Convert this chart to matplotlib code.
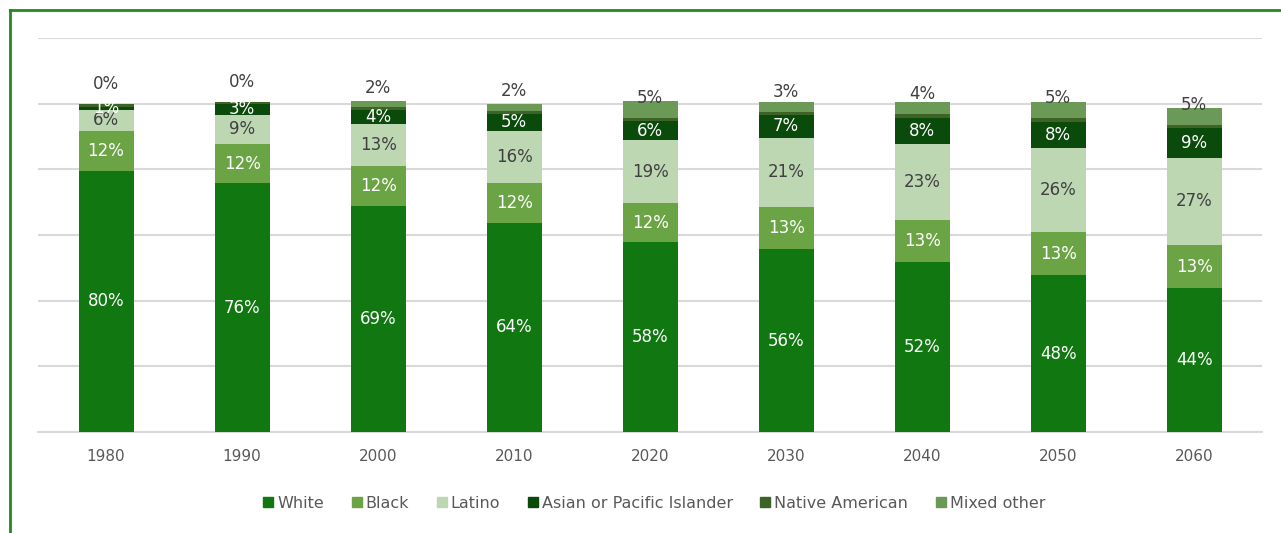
import numpy as np
import matplotlib
matplotlib.use("Agg")
import matplotlib.pyplot as plt
from matplotlib.lines import Line2D

# Data (percent shares)
years = ["1980", "1990", "2000", "2010", "2020", "2030", "2040", "2050", "2060"]
white = [79.6, 75.7, 68.7, 63.8, 57.8, 55.6, 51.7, 47.7, 43.8]
black = [12.2, 12.0, 12.2, 11.9, 11.9, 13.0, 13.0, 13.1, 13.1]
latino = [6.3, 9.0, 12.8, 16.1, 19.1, 21.0, 23.1, 25.8, 26.7]
asian = [0.9, 3.2, 4.3, 5.0, 5.8, 7.0, 7.9, 7.9, 9.1]
native = [1.0, 0.6, 0.9, 1.1, 1.1, 1.0, 1.1, 1.1, 0.9]
mixed = [0.0, 0.0, 1.9, 2.0, 5.0, 3.0, 3.8, 5.0, 5.1]

series = [
    ("White", white, "#117711", "white"),
    ("Black", black, "#6aa444", "white"),
    ("Latino", latino, "#bdd7b3", "#404040"),
    ("Asian or Pacific Islander", asian, "#0a4a0a", "white"),
    ("Native American", native, "#3d6327", None),
    ("Mixed other", mixed, "#6a9a56", "above"),
]

fig = plt.figure(figsize=(12.81, 5.33), dpi=100)
ax = fig.add_axes([0.0297, 0.1895, 0.9556, 0.7392])

x = np.arange(len(years))
bottom = np.zeros(len(years))
handles = []
for name, vals, color, lab in series:
    vals = np.array(vals)
    ax.bar(x, vals, 0.405, bottom=bottom, color=color, linewidth=0, zorder=3)
    for i, v in enumerate(vals):
        if lab is None:
            continue
        txt = f"{round(v):.0f}%"
        if lab == "above":
            ax.text(x[i], bottom[i] + 6, txt, ha="center", va="center",
                    fontsize=12, color="#404040", zorder=4)
        else:
            ax.text(x[i], bottom[i] + v / 2, txt, ha="center", va="center",
                    fontsize=12, color=lab, zorder=4)
    bottom += vals
    handles.append(Line2D([], [], marker="s", linestyle="none", markersize=7.5,
                          markerfacecolor=color, markeredgecolor=color, label=name))

ax.set_xlim(-0.5, len(years) - 0.5)
ax.set_ylim(0, 120)
ax.set_yticks(np.arange(0, 121, 20))
ax.set_yticklabels([])
ax.yaxis.grid(True, color="#d9d9d9", linewidth=1.5, zorder=0)
ax.tick_params(axis="y", length=0)
ax.set_xticks(x)
ax.set_xticklabels(years, fontsize=11, color="#595959")
ax.tick_params(axis="x", length=0, pad=12)
for s in ["top", "right", "left"]:
    ax.spines[s].set_visible(False)
ax.spines["bottom"].set_color("#d9d9d9")
ax.spines["bottom"].set_linewidth(1.5)

leg = fig.legend(handles=handles, loc="center", bbox_to_anchor=(0.511, 0.056),
                 ncol=6, frameon=False, fontsize=11.5, handlelength=0.55,
                 handletextpad=0.3, columnspacing=1.75, labelcolor="#595959")

# green frame on the top and left edges
fig.add_artist(Line2D([9.5 / 1281, 9.5 / 1281], [0, 1 - 9.5 / 533],
                      color="#1f8a1f", linewidth=2, transform=fig.transFigure))
fig.add_artist(Line2D([9.5 / 1281, 1], [1 - 9.5 / 533, 1 - 9.5 / 533],
                      color="#1f8a1f", linewidth=2, transform=fig.transFigure))

fig.savefig("out.png", dpi=100)
